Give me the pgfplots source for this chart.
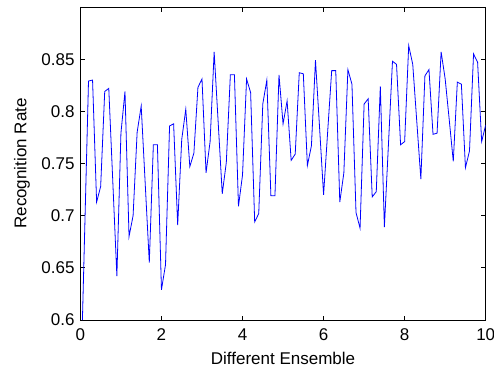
\documentclass[border=0pt]{standalone}
\usepackage{pgfplots}
\pgfplotsset{compat=1.18}
\usepackage{fontspec}
\setmainfont{Liberation Sans}
\begin{document}
\fontsize{17pt}{20pt}\selectfont
\begin{tikzpicture}
\begin{axis}[
  name=ax,
  scale only axis,
  width=405.3pt, height=313pt,
  xmin=0, xmax=10, ymin=0.6, ymax=0.9,
  xtick={0,2,4,6,8,10},
  ytick={0.6,0.65,0.7,0.75,0.8,0.85},
  yticklabels={0.6,0.65,0.7,0.75,0.8,0.85},
  tick align=inside,
  major tick length=4.5pt,
  every tick/.style={black, line width=0.7pt},
  axis line style={line width=0.8pt},
  /pgf/number format/assume math mode=true,
  tick label style={font=\fontsize{17pt}{20pt}\selectfont},
  label style={font=\fontsize{17pt}{20pt}\selectfont},
  xticklabel style={yshift=-3pt},
  xlabel={Different Ensemble},
  ylabel={Recognition Rate},
]
\addplot[blue, line width=0.8pt, no markers] table {
x y
0.05 0.600
0.2 0.829
0.3 0.830
0.4 0.713
0.5 0.728
0.6 0.819
0.7 0.822
0.8 0.732
0.9 0.642
1.0 0.779
1.1 0.819
1.2 0.680
1.3 0.700
1.4 0.780
1.5 0.805
1.6 0.730
1.7 0.655
1.8 0.768
1.9 0.768
2.0 0.629
2.1 0.653
2.2 0.786
2.3 0.788
2.4 0.691
2.5 0.773
2.6 0.802
2.7 0.747
2.8 0.760
2.9 0.823
3.0 0.831
3.1 0.741
3.2 0.771
3.3 0.857
3.4 0.789
3.5 0.721
3.6 0.751
3.7 0.835
3.8 0.835
3.9 0.709
4.0 0.739
4.1 0.831
4.2 0.818
4.3 0.694
4.4 0.702
4.5 0.807
4.6 0.830
4.7 0.719
4.8 0.719
4.9 0.835
5.0 0.788
5.1 0.810
5.2 0.753
5.3 0.759
5.4 0.837
5.5 0.836
5.6 0.748
5.7 0.767
5.8 0.849
5.9 0.785
6.0 0.720
6.1 0.780
6.2 0.839
6.3 0.839
6.4 0.713
6.5 0.741
6.6 0.840
6.7 0.826
6.8 0.703
6.9 0.688
7.0 0.807
7.1 0.812
7.2 0.718
7.3 0.723
7.4 0.824
7.5 0.689
7.6 0.768
7.7 0.848
7.8 0.845
7.9 0.768
8.0 0.771
8.1 0.863
8.2 0.845
8.3 0.790
8.4 0.735
8.5 0.834
8.6 0.840
8.7 0.778
8.8 0.779
8.9 0.857
9.0 0.831
9.1 0.792
9.2 0.752
9.3 0.828
9.4 0.826
9.5 0.746
9.6 0.762
9.7 0.855
9.8 0.847
9.9 0.771
10.0 0.787
};
\end{axis}
\path (ax.south west) ++(-80.4pt,-49pt) coordinate (bba);
\path (ax.north east) ++(8.3pt,7pt) coordinate (bbb);
\pgfresetboundingbox
\path[use as bounding box] (bba) rectangle (bbb);
\end{tikzpicture}
\end{document}
